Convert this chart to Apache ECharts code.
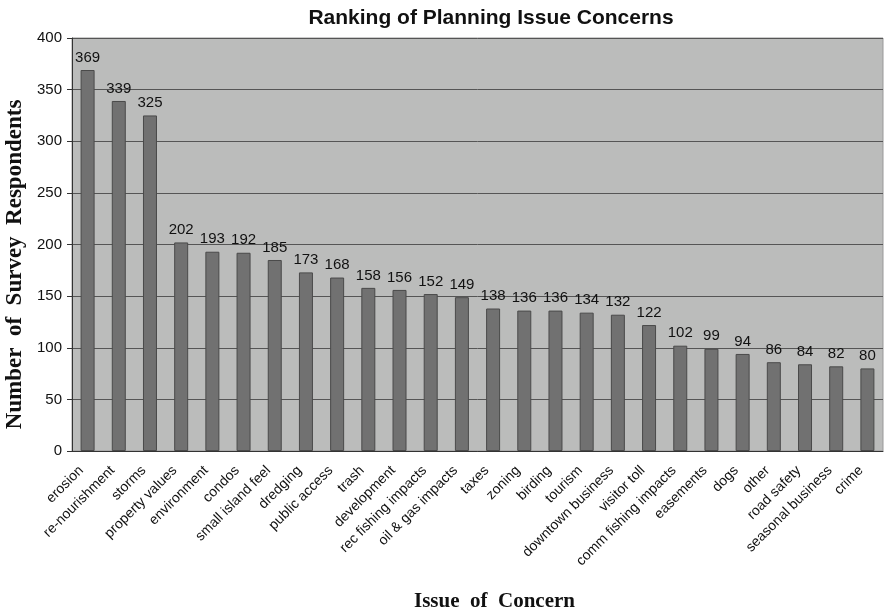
<!DOCTYPE html>
<html><head><meta charset="utf-8">
<script src="https://cdn.jsdelivr.net/npm/echarts@6/dist/echarts.min.js"></script>
<style>html,body{margin:0;padding:0;background:#fff}#c{width:886px;height:610px}</style>
</head><body><div id="c"></div>
<script>
const categories = ["erosion","re-nourishment","storms","property values","environment","condos","small island feel","dredging","public access","trash","development","rec fishing impacts","oil & gas impacts","taxes","zoning","birding","tourism","downtown business","visitor toll","comm fishing impacts","easements","dogs","other","road safety","seasonal business","crime"];
const values = [369,339,325,202,193,192,185,173,168,158,156,152,149,138,136,136,134,132,122,102,99,94,86,84,82,80];
const yTicks = [0,50,100,150,200,250,300,350,400];

const chart = echarts.init(document.getElementById('c'));
chart.setOption({
  animation: false,
  title: {
    text: 'Ranking of Planning Issue Concerns',
    left: 486, top: 3, textAlign: 'center',
    textStyle: {fontFamily: 'Liberation Sans, Arial', fontWeight: 'bold', fontSize: 21, color: '#111'}
  },
  grid: {left: 72, right: 3, top: 38, bottom: 159, outerBoundsMode: 'none', containLabel: false,
         backgroundColor: '#bbbcbb', show: true, borderColor: '#999', borderWidth: 1},
  xAxis: {
    type: 'category', data: categories,
    name: 'Issue  of  Concern', nameLocation: 'middle', nameGap: 140,
    nameTextStyle: {fontFamily: 'Liberation Serif, Times New Roman', fontWeight: 'bold', fontSize: 21, color: '#111', padding: [0, 0, 0, 34]},
    axisLine: {lineStyle: {color: '#333'}},
    axisTick: {lineStyle: {color: '#333'}, length: 5},
    axisLabel: {rotate: 45, interval: 0, fontFamily: 'Liberation Sans, Arial', fontSize: 14, color: '#111', margin: 11, padding: [0, 9, 0, 0]}
  },
  yAxis: {
    type: 'value', min: yTicks[0], max: yTicks[yTicks.length - 1], interval: 50,
    name: 'Number  of  Survey  Respondents', nameLocation: 'middle', nameGap: 44,
    nameTextStyle: {fontFamily: 'Liberation Serif, Times New Roman', fontWeight: 'bold', fontSize: 23, color: '#111', padding: [0, 40, 0, 0]},
    axisLine: {show: true, lineStyle: {color: '#333'}},
    axisTick: {show: true, lineStyle: {color: '#333'}, length: 5},
    axisLabel: {fontFamily: 'Liberation Sans, Arial', fontSize: 15, color: '#111', margin: 10},
    splitLine: {lineStyle: {color: '#555', width: 1}}
  },
  series: [{
    type: 'bar', data: values, barWidth: 14,
    itemStyle: {color: '#717171', borderColor: '#4a4a4a', borderWidth: 1},
    label: {show: true, position: 'top', distance: 5, fontFamily: 'Liberation Sans, Arial', fontSize: 15, color: '#111'}
  }]
});
</script></body></html>
